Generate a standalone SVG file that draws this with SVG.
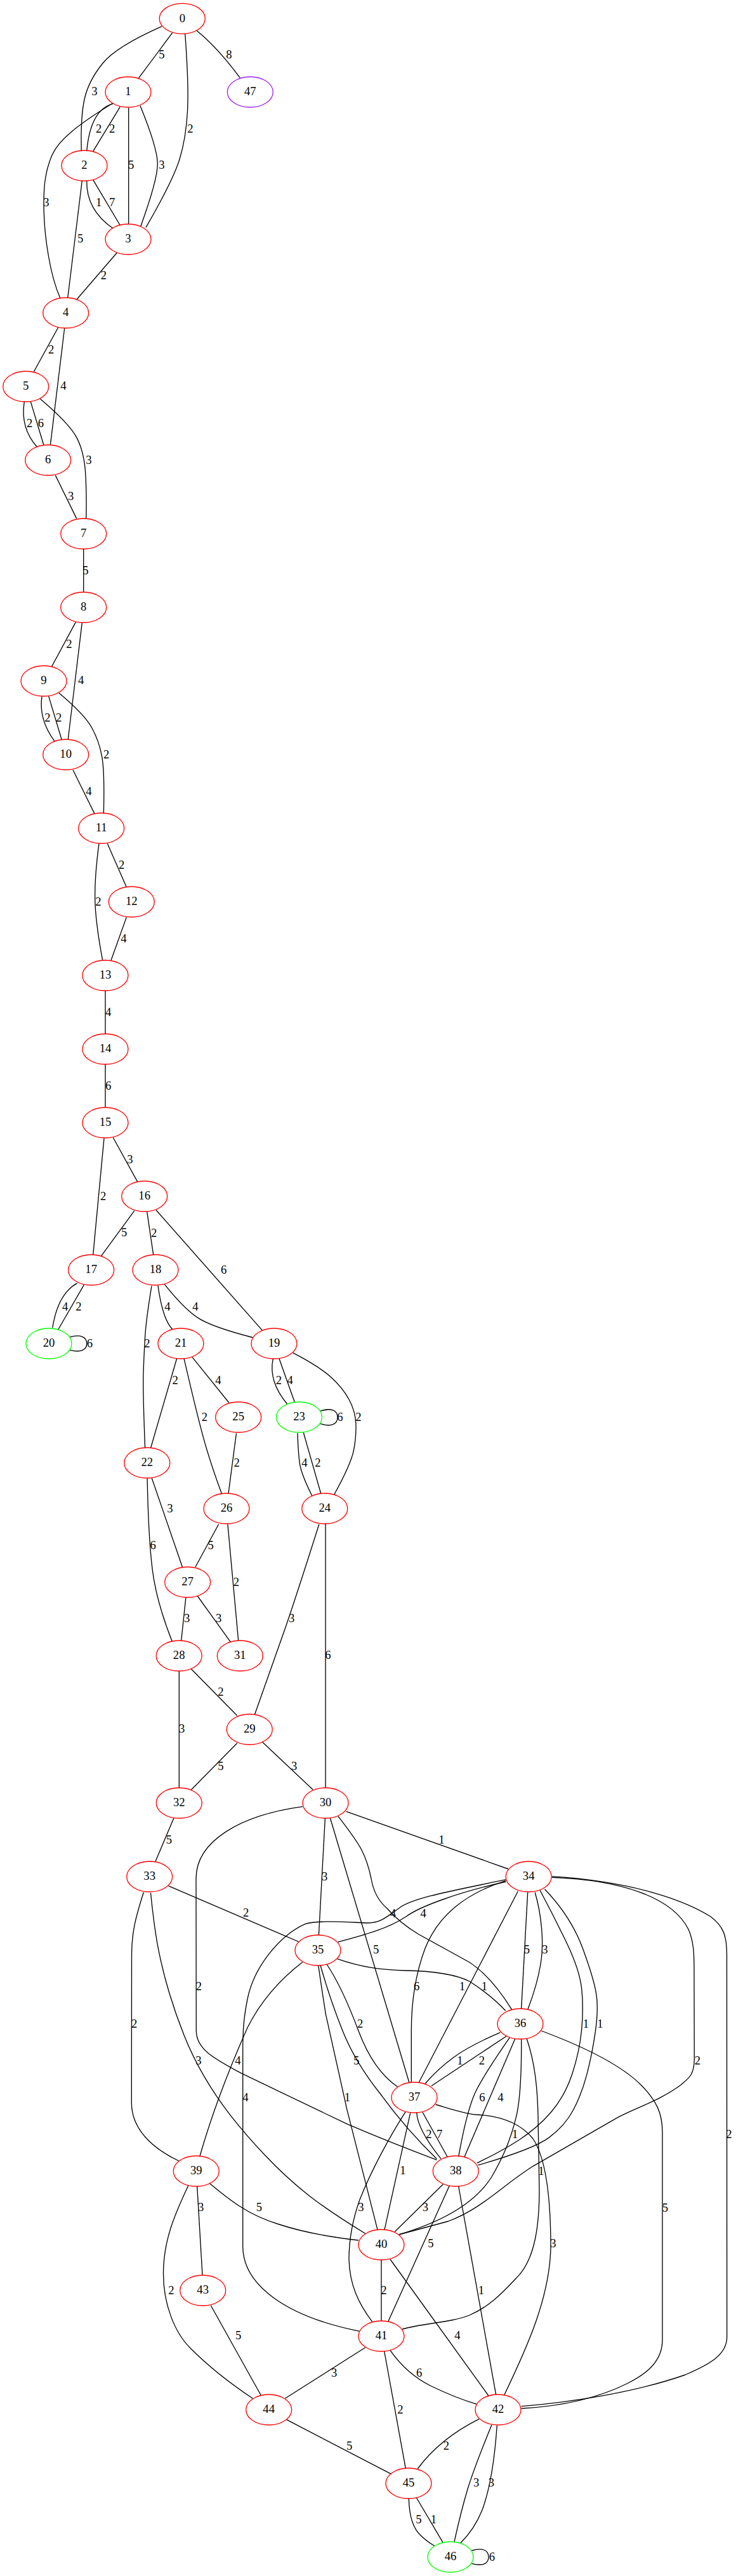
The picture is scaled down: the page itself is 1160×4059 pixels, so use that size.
<svg xmlns="http://www.w3.org/2000/svg" width="1160" height="4059" viewBox="0 0 1160 4059">
<style>
.n ellipse{fill:none;stroke-width:1.33}
.r ellipse{stroke:#ff0000}
.g ellipse{stroke:#00ff00}
.p ellipse{stroke:#a020f0}
text{font-family:"Liberation Serif","Times New Roman",serif;font-size:18.67px;fill:#000;text-anchor:middle}
#edges path{fill:none;stroke:#000;stroke-width:1.33}
</style>
<rect width="1160" height="4059" fill="#fff"/>
<g id="edges">
<path d="M271.7,51.7 L218.3,123.3"/><text x="255" y="92">5</text>
<path d="M255,41.7 Q183.3,73.3 161.7,100 Q140,126.7 133.4,155 Q126.7,183.3 128.3,238.3"/><text x="149" y="150">3</text>
<path d="M291.7,53.3 Q297.7,133.3 295.5,175 Q293.3,216.7 283.3,250 Q273.3,283.3 230,358.3"/><text x="300" y="208.5">2</text>
<path d="M310,48.3 Q342.5,74.5 378.3,122.7"/><text x="361" y="92">8</text>
<path d="M178.3,163.3 Q142.5,172.6 136.7,238.3"/><text x="155.7" y="208.5">2</text>
<path d="M189.3,168.3 L146.7,238.3"/><text x="176.7" y="208.5">2</text>
<path d="M202.7,170 L202.7,352.7"/><text x="206.7" y="266">5</text>
<path d="M221,166.7 Q248.3,233.3 248.3,258.3 Q248.3,283.3 221.7,356.7"/><text x="255" y="266">3</text>
<path d="M176.7,163.3 Q133.3,190 111.7,208.4 Q90,226.7 82.5,243.4 Q75,260 71.7,280 Q68.3,300 69.2,333.4 Q70,366.7 76.7,405 Q83.3,443.3 95,470"/><text x="73" y="324.5">3</text>
<path d="M136.7,285 Q135.9,330.9 178.3,360"/><text x="155.7" y="324.5">1</text>
<path d="M146.7,283.3 L189.3,355"/><text x="176.7" y="324.5">7</text>
<path d="M129.3,285 L106.7,470"/><text x="126.7" y="382">5</text>
<path d="M184.3,398.3 L121,471.7"/><text x="163.3" y="440">2</text>
<path d="M91.7,516 L53.3,585.7"/><text x="80.7" y="557">2</text>
<path d="M101.7,517 L79.3,701.8"/><text x="100" y="614">4</text>
<path d="M38.3,632.9 Q31.7,674.2 58.3,704.3"/><text x="46.7" y="672.5">2</text>
<path d="M48.3,632.9 L69,701.8"/><text x="64.3" y="672.5">6</text>
<path d="M63.3,628.6 Q110,667.9 121.7,691.1 Q133.3,714.3 135,750 Q136.7,785.7 135.7,817.1"/><text x="140" y="730.5">3</text>
<path d="M87.3,748.9 L120.7,817.1"/><text x="111.7" y="788">3</text>
<path d="M131.7,865 L131.7,933"/><text x="135" y="904.5">5</text>
<path d="M119.3,980.4 L81.7,1050"/><text x="109" y="1020.5">2</text>
<path d="M129.3,981.4 L107.3,1165"/><text x="127.7" y="1078">4</text>
<path d="M66,1097.1 Q60.6,1133.3 86,1167.9"/><text x="75" y="1137">2</text>
<path d="M76.7,1097.1 L97.3,1165.7"/><text x="92.7" y="1137">2</text>
<path d="M92.7,1091.8 Q133.3,1125.7 145,1147.2 Q156.7,1168.6 160.9,1193.6 Q165,1218.6 163.3,1282.1"/><text x="167.7" y="1195">2</text>
<path d="M115,1213.2 L149,1282.1"/><text x="140" y="1252.5">4</text>
<path d="M169.3,1329.3 L199,1397.1"/><text x="191.7" y="1368.5">2</text>
<path d="M156,1329.3 Q149.3,1379.3 149.7,1415 Q150,1450.7 161.7,1513.2"/><text x="155" y="1427">2</text>
<path d="M199.3,1445.4 L175,1513.2"/><text x="195" y="1484.5">4</text>
<path d="M166,1561 L166,1629"/><text x="170.7" y="1600.5">4</text>
<path d="M166,1677 L166,1745"/><text x="170.7" y="1716.5">6</text>
<path d="M178.3,1792.5 L216.7,1862.1"/><text x="205" y="1832.5">3</text>
<path d="M164,1793.6 L146.7,1977.1"/><text x="162.7" y="1890.5">2</text>
<path d="M211.7,1907.9 L159.3,1979.3"/><text x="195.7" y="1948">5</text>
<path d="M231.7,1909.3 L241.7,1977.1"/><text x="242.7" y="1948.5">2</text>
<path d="M246,1906.8 L413.3,2096.1"/><text x="352.7" y="2006.5">6</text>
<path d="M121.7,2021.8 Q91.2,2038.6 82.7,2092.5"/><text x="102.7" y="2064.5">4</text>
<path d="M132.3,2024.6 L91.7,2095"/><text x="124" y="2064.5">2</text>
<path d="M110,2106.8 C127,2102 137,2107 136.7,2117 C137,2127 127,2132 110,2127.1"/><text x="141.5" y="2122.5">6</text>
<path d="M239,2026.4 Q230,2080 228.4,2110 Q226.7,2140 225.9,2165 Q225,2190 228.6,2281.7"/><text x="232" y="2122.5">2</text>
<path d="M249,2025.7 Q256.2,2078.6 271.7,2094.3"/><text x="264" y="2064.5">4</text>
<path d="M259.3,2023.6 Q290,2062.1 311.7,2076.4 Q333.3,2090.7 398.3,2107.5"/><text x="308" y="2064.5">4</text>
<path d="M278.6,2140.7 L237.5,2281.7"/><text x="276.1" y="2181">2</text>
<path d="M290,2140.7 Q310.7,2230 321.4,2268.4 Q332.1,2306.7 349.3,2353.3"/><text x="322.5" y="2239">2</text>
<path d="M302.9,2138.3 L360.7,2210"/><text x="343.9" y="2180.5">4</text>
<path d="M430.4,2140.7 Q422.6,2176.7 452.9,2212.7"/><text x="439.3" y="2180.5">2</text>
<path d="M440,2140.7 L464.3,2209.3"/><text x="457.1" y="2180.5">4</text>
<path d="M461.7,2131.7 Q503.3,2153.3 521.7,2170 Q540,2186.7 550,2205 Q560,2223.3 560.9,2243.3 Q561.7,2263.3 557.5,2285 Q553.3,2306.7 526.7,2355"/><text x="565" y="2239">2</text>
<path d="M505,2223.3 C522,2218 532,2222 532,2233.3 C532,2244 522,2249 505,2243.3"/><text x="536" y="2239">6</text>
<path d="M469,2258.3 Q470,2290 472.5,2306.7 Q475,2323.3 491.7,2356.7"/><text x="480" y="2311">4</text>
<path d="M478.3,2257.3 L505.7,2353.3"/><text x="501" y="2311">2</text>
<path d="M372.5,2258.3 L360,2353.3"/><text x="373.2" y="2311">2</text>
<path d="M239.3,2329.3 L287.5,2469.3"/><text x="267.9" y="2383">3</text>
<path d="M232.1,2329.3 Q233.9,2423.3 240.2,2473.3 Q246.4,2523.3 271.4,2586.7"/><text x="241.1" y="2440.5">6</text>
<path d="M344.6,2401.7 L307.9,2469.3"/><text x="332.1" y="2440.5">5</text>
<path d="M358.9,2401.7 L375.7,2585"/><text x="372.5" y="2498.5">2</text>
<path d="M292.9,2517.3 L285.7,2585"/><text x="294.6" y="2556">3</text>
<path d="M311.4,2515 L363.6,2587.7"/><text x="344.6" y="2556">3</text>
<path d="M502.9,2401.7 Q464.3,2523.3 449.1,2566.7 Q433.9,2610 401.4,2701.7"/><text x="459.6" y="2556">3</text>
<path d="M513.1,2400.7 L513.1,2817"/><text x="517" y="2614">6</text>
<path d="M301.5,2630 L373.7,2703.3"/><text x="347.8" y="2672">2</text>
<path d="M282.3,2633 L282.3,2817"/><text x="286.7" y="2730">3</text>
<path d="M373.7,2746.7 L301.5,2820"/><text x="347.8" y="2788.5">5</text>
<path d="M413.6,2745 L493.2,2820"/><text x="463.6" y="2788.5">3</text>
<path d="M273.8,2865 L244.9,2933.3"/><text x="266.4" y="2904.5">5</text>
<path d="M512.4,2865 L502.4,3049.3"/><text x="511.7" y="2963">3</text>
<path d="M265.6,2971.7 L471.7,3060"/><text x="387.7" y="3020">2</text>
<path d="M545.7,2854.3 L801.1,2945"/><text x="696" y="2904.5">1</text>
<path d="M477.2,2846.7 C380,2860 309,2900 309,2960 L309.3,3200 C309.5,3230 340,3245 380,3266.7 L546.7,3346.7 Q616.7,3376.7 688.3,3403.3"/><text x="313.3" y="3136">2</text>
<path d="M226.4,2981.7 C214,3020 207.5,3045 207.5,3080 L207.3,3313.3 C207.3,3355 240,3385 281.7,3405"/><text x="211.7" y="3194.5">2</text>
<path d="M237.5,2982.7 Q243.3,3040 250,3073.4 Q256.7,3106.7 266.7,3140 Q276.7,3173.3 290,3206.7 Q303.3,3240 321.7,3271.7 Q340,3303.3 363.4,3333.3 Q386.7,3363.3 418.4,3396.7 Q450,3430 483.4,3456.7 Q516.7,3483.3 576.7,3520"/><text x="313" y="3253">3</text>
<path d="M797.3,2965 C720,2982 660,3005 640,3020 C610,3040 570,3050 532.7,3060"/><text x="667.2" y="3021">4</text>
<path d="M797.3,2961.7 C720,2978 650,2990 628.9,3006.7 C610,3020 600,3030 580,3030 C550,3029 500,3025 481,3031.7 C440,3050 400,3100 390,3150 C384,3180 382.7,3200 382.7,3230 L382.7,3540 C383,3600 450,3650 566.7,3673.3"/><text x="387" y="3311">4</text>
<path d="M532.7,2861.7 Q560,2896.7 570,2915 Q580,2935 585,2960 Q590,2990 610,3007 Q630,3030 660,3048 Q700,3070 740,3092 Q775,3115 806.7,3166.7"/><text x="619.3" y="3021">4</text>
<path d="M520.5,2865 L645,3281.7"/><text x="592.6" y="3078">5</text>
<path d="M831.7,2981.7 L821.7,3165"/><text x="830.5" y="3078">5</text>
<path d="M843.2,2981.7 C853,3015 858,3060 852,3095 C848,3120 840,3145 831.7,3166.7"/><text x="859" y="3078">3</text>
<path d="M816.4,2980 L660,3281.7"/><text x="728.3" y="3136">1</text>
<path d="M797.3,2963.3 C730,2985 690,3020 670,3070 C655,3110 648.3,3150 648.3,3200 L648.3,3281.7"/><text x="656.7" y="3136">6</text>
<path d="M850.9,2978.3 Q873.3,3020 893.3,3061.7 Q913.3,3103.3 916.7,3133.3 Q920,3163.3 916.7,3198.3 Q913.3,3233.3 901.7,3268.3 Q890,3303.3 868.4,3328.3 Q846.7,3353.3 818.4,3371.7 Q790,3390 751.7,3408.3"/><text x="923.3" y="3194.5">1</text>
<path d="M858.5,2976.7 Q900,3020 918.4,3070 Q936.7,3120 940,3143.4 Q943.3,3166.7 938.3,3201.7 Q933.3,3236.7 925,3268.4 Q916.7,3300 903.4,3325 Q890,3350 865,3368.4 Q840,3386.7 753.3,3411.7"/><text x="946" y="3194.5">1</text>
<path d="M870,2958.3 C980,2962 1060,2990 1085,3040 C1094,3060 1094,3080 1094,3110 L1094.3,3245 C1094,3270 1085,3275 1073.3,3285 C1040,3310 1000,3322 973.3,3336.7 L840,3413.3 C790,3445 760,3480 706.7,3500 L629,3521"/><text x="1099.3" y="3253">2</text>
<path d="M870,2956.7 C1000,2965 1080,2995 1120,3020 C1140,3035 1145.5,3050 1145.5,3080 L1145.7,3683.3 C1145,3710 1120,3725 1080,3742 C1000,3770 900,3785 821.7,3791.7"/><text x="1149" y="3368.5">2</text>
<path d="M853.3,3200 C920,3225 980,3255 1010,3285 C1035,3310 1044,3330 1044,3360 L1044,3686.7 C1044,3720 1020,3740 990,3755 C940,3780 880,3792 821.7,3795"/><text x="1048.3" y="3484.5">5</text>
<path d="M531.7,3086.7 C570,3100 600,3104 640,3105 C690,3106 720,3112 740,3122 C760,3135 780,3150 796.7,3168.3"/><text x="763.3" y="3136">1</text>
<path d="M788.3,3202.7 Q740,3223.3 715,3241.7 Q690,3260 670,3283.3"/><text x="725" y="3253">1</text>
<path d="M798.3,3208.3 L680,3286.7"/><text x="759.3" y="3253">2</text>
<path d="M803.3,3210.7 Q766.7,3263.3 751.7,3291.7 Q736.7,3320 722.7,3398.3"/><text x="760" y="3311">6</text>
<path d="M811.7,3212.7 L731.7,3399.3"/><text x="789" y="3311">4</text>
<path d="M821.7,3213.3 C822,3260 820,3310 813.3,3336.7 C805,3370 795,3395 775,3430 C750,3470 700,3500 629,3521"/><text x="811.7" y="3368.5">1</text>
<path d="M830,3211.7 C843,3250 848,3290 848.3,3353 L850,3450 C850,3500 845,3560 813.3,3590 C790,3615 770,3635 740,3648 C710,3660 670,3660 634,3670"/><text x="853" y="3427">1</text>
<path d="M686.7,3316 C710,3323 730,3330 750,3332 C790,3334 820,3345 840,3370 C860,3400 868,3460 868,3540 C867,3620 830,3700 795,3773.3"/><text x="872" y="3541">3</text>
<path d="M515,3095 C535,3125 550,3160 565,3200 C580,3240 600,3270 626.7,3288.3"/><text x="567.7" y="3194.5">2</text>
<path d="M505,3096.7 Q520,3150 540,3200 Q560,3250 600,3300 Q640,3355 688.3,3401.7"/><text x="561.7" y="3253">5</text>
<path d="M501.7,3096.7 Q508,3140 513.3,3173.3 L546.7,3323.3 L595,3513.3"/><text x="547.3" y="3311">1</text>
<path d="M476.7,3091.7 C440,3120 410,3155 390,3195 C370,3240 340,3310 315,3397.3"/><text x="375" y="3253">4</text>
<path d="M656.7,3328.3 Q657.6,3355 695,3401.7"/><text x="676" y="3368.5">2</text>
<path d="M666,3328.3 L705,3398.3"/><text x="692.7" y="3368.5">7</text>
<path d="M646.7,3329.3 L606,3513.3"/><text x="635" y="3426">1</text>
<path d="M639.3,3327.3 C615,3365 585,3420 566.7,3466.7 C555,3500 550,3530 550,3560 C551,3600 565,3630 586.7,3658.3"/><text x="569" y="3484">3</text>
<path d="M698.3,3441.7 L622,3516.7"/><text x="670.5" y="3484">3</text>
<path d="M708.3,3444 L611.7,3658.3"/><text x="679" y="3541">5</text>
<path d="M722.7,3445 L781.7,3773.3"/><text x="758.3" y="3614.5">1</text>
<path d="M601,3561 L601,3657"/><text x="605" y="3614.5">2</text>
<path d="M615,3560 L770,3775"/><text x="721" y="3686">4</text>
<path d="M330,3440 C360,3465 390,3490 440,3505 C480,3518 520,3525 565,3530"/><text x="408.3" y="3484">5</text>
<path d="M310.7,3445 L319,3585"/><text x="316.7" y="3484">3</text>
<path d="M296.7,3444 C275,3490 258,3530 257.5,3580 C257,3630 275,3675 300,3700 C330,3730 365,3757 398.3,3779.3"/><text x="270" y="3615">2</text>
<path d="M332.3,3632.7 L411.7,3775"/><text x="375.7" y="3686">5</text>
<path d="M575.7,3699 L449.3,3779.3"/><text x="526.7" y="3744.5">3</text>
<path d="M605.7,3705 L639.3,3889.3"/><text x="631" y="3803">2</text>
<path d="M615,3703.3 C630,3725 650,3745 680,3760 C705,3772 730,3782 751.7,3788.3"/><text x="660.7" y="3744.5">6</text>
<path d="M451.7,3812.7 L616.7,3898.3"/><text x="550.7" y="3859.5">5</text>
<path d="M755,3811.7 Q693.4,3842.6 658.3,3890"/><text x="703.3" y="3859.5">2</text>
<path d="M775,3820.7 Q746.7,3890 736.7,3923.3 Q726.7,3956.7 716,4005"/><text x="750.7" y="3918">3</text>
<path d="M783.3,3821.7 C780,3870 773,3920 760,3955 C750,3980 738,3995 726,4006.7"/><text x="774.3" y="3918">3</text>
<path d="M644.3,3936.7 C645,3965 652,3985 663,3995 Q672,4004 685,4011.7"/><text x="660" y="3976">5</text>
<path d="M656,3935 L698.3,4006.7"/><text x="683.3" y="3976">1</text>
<path d="M743.3,4019 C760,4014 770,4018 770,4029 C770,4040 760,4044 743.3,4039.3"/><text x="775.5" y="4034.5">6</text>
</g>
<g id="node0" class="n r"><ellipse cx="287.3" cy="29.3" rx="36" ry="24"/><text x="287.3" y="34.6">0</text></g>
<g id="node1" class="n r"><ellipse cx="202" cy="145" rx="36" ry="24"/><text x="202" y="150.3">1</text></g>
<g id="node47" class="n p"><ellipse cx="394.3" cy="145" rx="36" ry="24"/><text x="394.3" y="150.3">47</text></g>
<g id="node2" class="n r"><ellipse cx="133" cy="261" rx="36" ry="24"/><text x="133" y="266.3">2</text></g>
<g id="node3" class="n r"><ellipse cx="202" cy="377" rx="36" ry="24"/><text x="202" y="382.3">3</text></g>
<g id="node4" class="n r"><ellipse cx="103.7" cy="493" rx="36" ry="24"/><text x="103.7" y="498.3">4</text></g>
<g id="node5" class="n r"><ellipse cx="40.7" cy="609" rx="36" ry="24"/><text x="40.7" y="614.3">5</text></g>
<g id="node6" class="n r"><ellipse cx="75.7" cy="725" rx="36" ry="24"/><text x="75.7" y="730.3">6</text></g>
<g id="node7" class="n r"><ellipse cx="131.7" cy="841" rx="36" ry="24"/><text x="131.7" y="846.3">7</text></g>
<g id="node8" class="n r"><ellipse cx="131.7" cy="957" rx="36" ry="24"/><text x="131.7" y="962.3">8</text></g>
<g id="node9" class="n r"><ellipse cx="69" cy="1073" rx="36" ry="24"/><text x="69" y="1078.3">9</text></g>
<g id="node10" class="n r"><ellipse cx="103.7" cy="1189" rx="36" ry="24"/><text x="103.7" y="1194.3">10</text></g>
<g id="node11" class="n r"><ellipse cx="159.7" cy="1305" rx="36" ry="24"/><text x="159.7" y="1310.3">11</text></g>
<g id="node12" class="n r"><ellipse cx="207.3" cy="1421" rx="36" ry="24"/><text x="207.3" y="1426.3">12</text></g>
<g id="node13" class="n r"><ellipse cx="166" cy="1537" rx="36" ry="24"/><text x="166" y="1542.3">13</text></g>
<g id="node14" class="n r"><ellipse cx="166" cy="1653" rx="36" ry="24"/><text x="166" y="1658.3">14</text></g>
<g id="node15" class="n r"><ellipse cx="166" cy="1769" rx="36" ry="24"/><text x="166" y="1774.3">15</text></g>
<g id="node16" class="n r"><ellipse cx="227.7" cy="1885" rx="36" ry="24"/><text x="227.7" y="1890.3">16</text></g>
<g id="node17" class="n r"><ellipse cx="143.7" cy="2001" rx="36" ry="24"/><text x="143.7" y="2006.3">17</text></g>
<g id="node18" class="n r"><ellipse cx="245" cy="2001" rx="36" ry="24"/><text x="245" y="2006.3">18</text></g>
<g id="node20" class="n g"><ellipse cx="77" cy="2117" rx="36" ry="24"/><text x="77" y="2122.3">20</text></g>
<g id="node21" class="n r"><ellipse cx="285" cy="2117" rx="36" ry="24"/><text x="285" y="2122.3">21</text></g>
<g id="node19" class="n r"><ellipse cx="432" cy="2117" rx="36" ry="24"/><text x="432" y="2122.3">19</text></g>
<g id="node25" class="n r"><ellipse cx="375.7" cy="2233" rx="36" ry="24"/><text x="375.7" y="2238.3">25</text></g>
<g id="node23" class="n g"><ellipse cx="471.5" cy="2233" rx="36" ry="24"/><text x="471.5" y="2238.3">23</text></g>
<g id="node22" class="n r"><ellipse cx="231.8" cy="2305" rx="36" ry="24"/><text x="231.8" y="2310.3">22</text></g>
<g id="node26" class="n r"><ellipse cx="357" cy="2377" rx="36" ry="24"/><text x="357" y="2382.3">26</text></g>
<g id="node24" class="n r"><ellipse cx="511.8" cy="2377" rx="36" ry="24"/><text x="511.8" y="2382.3">24</text></g>
<g id="node27" class="n r"><ellipse cx="295.7" cy="2493" rx="36" ry="24"/><text x="295.7" y="2498.3">27</text></g>
<g id="node28" class="n r"><ellipse cx="282.2" cy="2609" rx="36" ry="24"/><text x="282.2" y="2614.3">28</text></g>
<g id="node31" class="n r"><ellipse cx="378.3" cy="2609" rx="36" ry="24"/><text x="378.3" y="2614.3">31</text></g>
<g id="node29" class="n r"><ellipse cx="393.3" cy="2725" rx="36" ry="24"/><text x="393.3" y="2730.3">29</text></g>
<g id="node32" class="n r"><ellipse cx="282.3" cy="2841" rx="36" ry="24"/><text x="282.3" y="2846.3">32</text></g>
<g id="node30" class="n r"><ellipse cx="513.1" cy="2841" rx="36" ry="24"/><text x="513.1" y="2846.3">30</text></g>
<g id="node33" class="n r"><ellipse cx="235.7" cy="2957" rx="36" ry="24"/><text x="235.7" y="2962.3">33</text></g>
<g id="node34" class="n r"><ellipse cx="833.2" cy="2957" rx="36" ry="24"/><text x="833.2" y="2962.3">34</text></g>
<g id="node35" class="n r"><ellipse cx="501" cy="3073" rx="36" ry="24"/><text x="501" y="3078.3">35</text></g>
<g id="node36" class="n r"><ellipse cx="820" cy="3189" rx="36" ry="24"/><text x="820" y="3194.3">36</text></g>
<g id="node37" class="n r"><ellipse cx="653" cy="3305" rx="36" ry="24"/><text x="653" y="3310.3">37</text></g>
<g id="node39" class="n r"><ellipse cx="309.3" cy="3421" rx="36" ry="24"/><text x="309.3" y="3426.3">39</text></g>
<g id="node38" class="n r"><ellipse cx="718.3" cy="3421" rx="36" ry="24"/><text x="718.3" y="3426.3">38</text></g>
<g id="node40" class="n r"><ellipse cx="601" cy="3537" rx="36" ry="24"/><text x="601" y="3542.3">40</text></g>
<g id="node43" class="n r"><ellipse cx="319.7" cy="3609" rx="36" ry="24"/><text x="319.7" y="3614.3">43</text></g>
<g id="node41" class="n r"><ellipse cx="601" cy="3681" rx="36" ry="24"/><text x="601" y="3686.3">41</text></g>
<g id="node44" class="n r"><ellipse cx="423.7" cy="3797" rx="36" ry="24"/><text x="423.7" y="3802.3">44</text></g>
<g id="node42" class="n r"><ellipse cx="785" cy="3797" rx="36" ry="24"/><text x="785" y="3802.3">42</text></g>
<g id="node45" class="n r"><ellipse cx="644" cy="3913" rx="36" ry="24"/><text x="644" y="3918.3">45</text></g>
<g id="node46" class="n g"><ellipse cx="710" cy="4029" rx="36" ry="24"/><text x="710" y="4034.3">46</text></g>
</svg>
